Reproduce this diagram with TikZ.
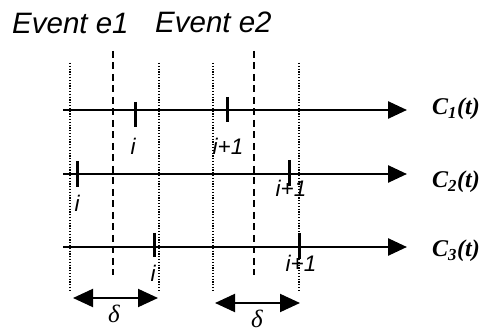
\documentclass[tikz,border=0pt]{standalone}
\usepackage{fontspec}
\setmainfont{Liberation Serif}
\setsansfont{Liberation Sans}
\usetikzlibrary{arrows.meta}
\tikzset{
  axis/.style={line width=2.6pt, -{Triangle[length=19pt,width=17pt]}},
  tickmark/.style={line width=3pt},
  dotline/.style={line width=1.3pt, dash pattern=on 1.2pt off 1.6pt},
  dashline/.style={line width=2pt, dash pattern=on 7pt off 4.5pt},
  span/.style={line width=2pt, {Triangle[length=20pt,width=18pt]}-{Triangle[length=20pt,width=18pt]}},
  evtext/.style={font=\sffamily\itshape\fontsize{29.5}{32}\selectfont, anchor=base west, inner sep=0pt},
  idx/.style={font=\sffamily\itshape\fontsize{22.5}{26}\selectfont, anchor=base, inner sep=0pt},
  clabel/.style={font=\bfseries\itshape\fontsize{24}{28}\selectfont, anchor=base west, inner sep=0pt},
  dlabel/.style={font=\itshape\fontsize{25}{28}\selectfont, anchor=base, inner sep=0pt}
}
\begin{document}
\begin{tikzpicture}[x=1pt,y=-1pt]
\useasboundingbox (0,0) rectangle (480,334);
% titles
\node[evtext] (ev1) at (12,34) {Event e1};
\node[evtext] (ev2) at (155,33) {Event e2};
% dotted window lines
\coordinate (d1t) at (70,63);  \coordinate (d1b) at (70,292);
\coordinate (d2t) at (159,63); \coordinate (d2b) at (159,292);
\coordinate (d3t) at (213,63); \coordinate (d3b) at (213,292);
\coordinate (d4t) at (299,63); \coordinate (d4b) at (299,292);
\draw[dotline] (d1t) -- (d1b);
\draw[dotline] (d2t) -- (d2b);
\draw[dotline] (d3t) -- (d3b);
\draw[dotline] (d4t) -- (d4b);
% dashed event lines
\coordinate (e1t) at (113,51); \coordinate (e1b) at (113,275);
\coordinate (e2t) at (254,51); \coordinate (e2b) at (254,275);
\draw[dashline] (e1t) -- (e1b);
\draw[dashline] (e2t) -- (e2b);
% axes
\coordinate (s1) at (63,110); \coordinate (t1) at (407,110);
\coordinate (s2) at (63,174); \coordinate (t2) at (407,174);
\coordinate (s3) at (63,247); \coordinate (t3) at (407,247);
\draw[axis] (s1) -- (t1);
\draw[axis] (s2) -- (t2);
\draw[axis] (s3) -- (t3);
\node[clabel] (c1) at (432,115) {C\textsubscript{1}(t)};
\node[clabel] (c2) at (432,188) {C\textsubscript{2}(t)};
\node[clabel] (c3) at (432,257) {C\textsubscript{3}(t)};
% ticks
\coordinate (k1at) at (135,102); \coordinate (k1ab) at (135,127);
\coordinate (k1bt) at (227,97);  \coordinate (k1bb) at (227,122);
\coordinate (k2at) at (77,161);  \coordinate (k2ab) at (77,187);
\coordinate (k2bt) at (289,160); \coordinate (k2bb) at (289,186);
\coordinate (k3at) at (154,233); \coordinate (k3ab) at (154,257);
\coordinate (k3bt) at (299,233); \coordinate (k3bb) at (299,259);
\draw[tickmark] (k1at) -- (k1ab);
\draw[tickmark] (k1bt) -- (k1bb);
\draw[tickmark] (k2at) -- (k2ab);
\draw[tickmark] (k2bt) -- (k2bb);
\draw[tickmark] (k3at) -- (k3ab);
\draw[tickmark] (k3bt) -- (k3bb);
% index labels
\node[idx] (l1a) at (133,155) {i};
\node[idx] (l1b) at (228,155) {i+1};
\node[idx] (l2a) at (77,212) {i};
\node[idx] (l2b) at (291,197) {i+1};
\node[idx] (l3a) at (153,282) {i};
\node[idx] (l3b) at (301,272) {i+1};
% delta spans
\coordinate (a1) at (73,298);  \coordinate (b1) at (158,298);
\coordinate (a2) at (215,303); \coordinate (b2) at (300,303);
\draw[span] (a1) -- (b1);
\draw[span] (a2) -- (b2);
\node[dlabel] (dl1) at (114,323) {δ};
\node[dlabel] (dl2) at (257,327) {δ};
\end{tikzpicture}
\end{document}
